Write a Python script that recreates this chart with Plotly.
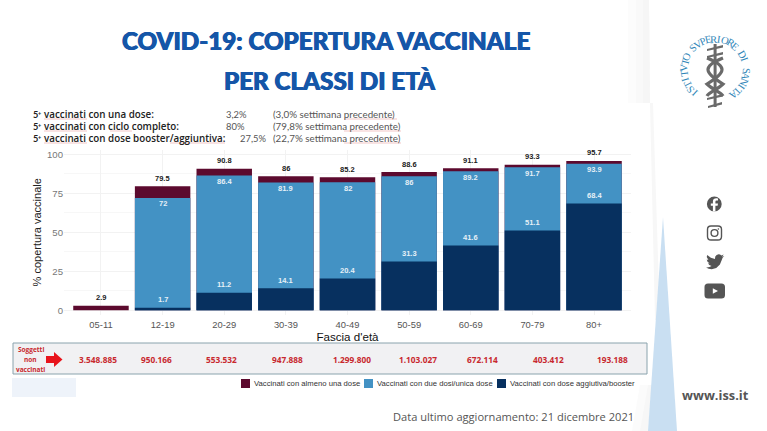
import math
import plotly.graph_objects as go

W, H = 767, 431

# Vaccination coverage by age band (%)
categories = ["05-11", "12-19", "20-29", "30-39", "40-49", "50-59", "60-69", "70-79", "80+"]
almeno_una_dose = [2.9, 79.5, 90.8, 86, 85.2, 88.6, 91.1, 93.3, 95.7]
due_dosi = [None, 72, 86.4, 81.9, 82, 86, 89.2, 91.7, 93.9]
booster = [None, 1.7, 11.2, 14.1, 20.4, 31.3, 41.6, 51.1, 68.4]
non_vaccinati = ["3.548.885", "950.166", "553.532", "947.888", "1.299.800",
                 "1.103.027", "672.114", "403.412", "193.188"]
non_vaccinati_x = [98, 156, 222, 287, 352, 418, 482, 548, 612]

series_names = ["Vaccinati con almeno una dose", "Vaccinati con due dosi/unica dose",
                "Vaccinati con dose aggiutiva/booster"]
series_colors = ["#5c0a2e", "#4392c4", "#07305f"]

summary_rows = [
    ("con una dose:", "3,2%", "(3,0% settimana precedente)", 226),
    ("con ciclo completo:", "80%", "(79,8% settimana precedente)", 226),
    ("con dose booster/aggiuntiva:", "27,5%", "(22,7% settimana precedente)", 240),
]


def px(x):
    return x / W


def py(y):
    return 1 - y / H


def path(cmds):
    """Build an SVG path in paper units from (command, x, y, ...) tuples in pixels."""
    out = []
    for c in cmds:
        nums = c[1:]
        pairs = [f"{px(nums[i]):.5f} {py(nums[i + 1]):.5f}" for i in range(0, len(nums), 2)]
        out.append(c[0] + " ".join(pairs))
    return " ".join(out)


def poly(points):
    cmds = [("M", *points[0])] + [("L", *p) for p in points[1:]]
    return path(cmds) + " Z"


def rrect(x0, y0, x1, y1, r):
    return path([("M", x0 + r, y0), ("L", x1 - r, y0), ("Q", x1, y0, x1, y0 + r),
                 ("L", x1, y1 - r), ("Q", x1, y1, x1 - r, y1), ("L", x0 + r, y1),
                 ("Q", x0, y1, x0, y1 - r), ("L", x0, y0 + r), ("Q", x0, y0, x0 + r, y0)]) + " Z"


shapes = []
annotations = []


def add_path(d, fill=None, line=None, width=0, layer="below"):
    shapes.append(dict(type="path", path=d, xref="paper", yref="paper", layer=layer,
                       fillcolor=fill or "rgba(0,0,0,0)",
                       line=dict(color=line or "rgba(0,0,0,0)", width=width)))


def add_rect(x0, y0, x1, y1, fill=None, line=None, width=0, layer="below"):
    shapes.append(dict(type="rect", xref="paper", yref="paper", layer=layer,
                       x0=px(x0), x1=px(x1), y0=py(y1), y1=py(y0),
                       fillcolor=fill or "rgba(0,0,0,0)",
                       line=dict(color=line or "rgba(0,0,0,0)", width=width)))


def add_circle(cx, cy, r, fill=None, line=None, width=0, layer="above"):
    shapes.append(dict(type="circle", xref="paper", yref="paper", layer=layer,
                       x0=px(cx - r), x1=px(cx + r), y0=py(cy + r), y1=py(cy - r),
                       fillcolor=fill or "rgba(0,0,0,0)",
                       line=dict(color=line or "rgba(0,0,0,0)", width=width)))


def add_text(x, y, text, size, color="#000", family="Liberation Sans", xanchor="left", angle=0, weight=None, shadow=None):
    font = dict(size=size, color=color, family=family)
    if weight:
        font["weight"] = weight
    if shadow:
        font["shadow"] = shadow
    annotations.append(dict(x=px(x), y=py(y), xref="paper", yref="paper", text=text, showarrow=False,
                            xanchor=xanchor, yanchor="middle", font=font, textangle=angle,
                            borderpad=0, borderwidth=0))


def add_value_label(cat, value, yshift, color):
    annotations.append(dict(x=cat, y=value, xref="x", yref="y", text=f"<b>{value:g}</b>", showarrow=False,
                            yshift=yshift, xanchor="center", yanchor="middle", borderpad=0,
                            font=dict(size=7.5, color=color, family="Liberation Sans")))


def squiggle(x0, x1, y):
    shapes.append(dict(type="line", xref="paper", yref="paper", layer="below",
                       x0=px(x0), x1=px(x1), y0=py(y), y1=py(y),
                       line=dict(color="#efb9b9", width=0.8)))


# Side ribbon behind the slide content
for left, fill in ((628, "#fcfcfc"), (636, "#f9f9f9"), (643, "#f6f6f6")):
    add_path(poly([(left, 0), (649, 0), (650, 103), (left, 103)]), fill=fill)
add_path(poly([(650, 103), (653, 103), (660, 320), (655, 320)]), fill="#f7f7f7")
for left, fill in ((632, "#fbfbfb"), (640, "#f7f7f7")):
    add_path(poly([(left, 431), (left + 8, 385), (652, 385), (648, 431)]), fill=fill)
add_path(poly([(663, 217), (677, 431), (648, 431)]), fill="#c9dff2")

# Title
title_color = "#1556a8"
title_shadow = f"0.5px 0 0 {title_color}, -0.5px 0 0 {title_color}"
add_text(326, 41, "COVID-19: COPERTURA VACCINALE", 24.2, title_color, "Lato", "center", weight=900, shadow=title_shadow)
add_text(330, 80, "PER CLASSI DI ETÀ", 24.2, title_color, "Lato", "center", weight=900, shadow=title_shadow)

# Summary rows above the chart; the raised plus is set as its own small text
for i, (label, pct, prev, pct_x) in enumerate(summary_rows):
    y = 114 + i * 12
    add_text(33, y, "5", 9.2, "#222", "Lato", weight=700)
    add_text(38.4, y - 1, "+", 5.5, "#222", "Lato", weight=700)
    add_text(44, y, f"vaccinati {label}", 9.8, "#222", "Open Sans", weight=600)
    add_text(pct_x, y, pct, 9.4, "#555", "Lato")
    add_text(273, y, prev, 9.8, "#555", "Lato")
    squiggle(44, 87, y + 5)
    squiggle(344, 397 + (4 if i else 0), y + 5)
squiggle(110, 132, 131)
squiggle(170, 225, 143)

# Unvaccinated counts strip
add_rect(13, 343, 647, 374, fill="#f1f1f3", line="#8aa3ad", width=1)
for y, word in zip((349.5, 359.5, 369), ("Soggetti", "non", "vaccinati")):
    add_text(30.5, y, f"<b>{word}</b>", 6.5, "#c8282e", "Open Sans", "center")
add_path(poly([(46, 356), (54, 356), (54, 352), (62.5, 359.5), (54, 367), (54, 363), (46, 363)]), fill="#e8141c")
for x, label in zip(non_vaccinati_x, non_vaccinati):
    add_text(x, 359, f"<b>{label}</b>", 8.3, "#c8282e", "Open Sans", "center")
add_rect(12, 378, 76, 397, fill="#eef3fa")

# Legend row
legend_swatches = [241, 364, 497]
for x, name, color in zip(legend_swatches, series_names, series_colors):
    add_rect(x, 379, x + 9, 388, fill=color)
    add_text(x + 13, 383.5, name, 7.7, "#333")

# Footer and links
add_text(393, 416, "Data ultimo aggiornamento: 21 dicembre 2021", 11.1, "#555", "Open Sans")
add_text(682, 395, "<b>www.iss.it</b>", 12.8, "#555", "Open Sans")

# Institute seal: lettering on a ring around the staff
seal_x, seal_y, seal_r = 715, 70, 31
seal_text = "ISTITVTO SVPERIORE DI SANITA"
for i, ch in enumerate(seal_text):
    a = -138 + i * 282 / (len(seal_text) - 1)
    if ch != " ":
        add_text(seal_x + seal_r * math.sin(math.radians(a)), seal_y - seal_r * math.cos(math.radians(a)),
                 ch, 10.5, "#2f86b8", "Liberation Serif", "center", angle=a)
gray = "#6a6a6a"
add_rect(713.6, 44, 716.6, 107, fill=gray, layer="above")
for y, half in ((47, 8), (54, 8), (96, 8), (104, 7)):
    add_path(poly([(715 - half, y + 2), (715 + half, y - 2), (715 + half, y + 0.5), (715 - half, y + 4)]),
             fill=gray, layer="above")
for side in (1, -1):
    add_path(path([("M", 715 - 8 * side, 58), ("C", 715 + 12 * side, 66, 715 + 12 * side, 72, 715 - 8 * side, 84),
                   ("C", 715 - 2 * side, 90, 715 + 6 * side, 92, 715 + 8 * side, 96)]),
             line=gray, width=3.2, layer="above")

# Social icons
icon = "#555555"
add_circle(714.3, 204, 7.4, fill=icon)
add_path(path([("M", 715.4, 211.4), ("L", 715.4, 205.8), ("L", 717.6, 205.8), ("L", 718, 203.4), ("L", 715.4, 203.4),
               ("L", 715.4, 201.8), ("Q", 715.4, 200.5, 716.8, 200.5), ("L", 718, 200.5), ("L", 718, 198.4),
               ("Q", 712.9, 197.7, 712.9, 201.6), ("L", 712.9, 203.4), ("L", 710.8, 203.4), ("L", 710.8, 205.8),
               ("L", 712.9, 205.8), ("L", 712.9, 211.4)]) + " Z", fill="#ffffff", layer="above")
add_path(rrect(707.5, 226, 721.5, 240, 3.5), line=icon, width=1.4, layer="above")
add_circle(714.5, 233, 3.4, line=icon, width=1.4)
add_circle(718.4, 229, 0.8, fill=icon)
bird = [(24, 4.57), (21.13, 5.35), (23.29, 2.62), (20.16, 3.81), (18.5, 2.6), (16.57, 2.25), (14, 3), (12.2, 5.2),
        (11.78, 8.29), (6.4, 6.8), (1.64, 3.16), (0.97, 5.64), (3.16, 9.73), (0.93, 9.12), (0.93, 9.18), (2.2, 12.5),
        (4.88, 14.0), (2.67, 14.09), (4.3, 16.4), (7.27, 17.5), (4.5, 19.1), (1.17, 19.6), (0, 19.54), (3.5, 21.2),
        (7.56, 21.75), (13.5, 20.2), (18.3, 15.5), (21.55, 7.77), (21.54, 7.14)]
add_path(poly([(706 + bx * 0.76, 252.6 + by * 0.76) for bx, by in bird]), fill=icon, layer="above")
add_path(rrect(704.5, 283.5, 725, 298.5, 3.5), fill=icon, layer="above")
add_path(poly([(712.8, 288.3), (718, 291), (712.8, 293.7)]), fill="#ffffff", layer="above")

fig = go.Figure()

# Bars share one baseline and are overlaid, tallest series first
for values, name, color in zip((almeno_una_dose, due_dosi, booster), series_names, series_colors):
    fig.add_trace(go.Bar(x=categories, y=values, name=name, marker=dict(color=color, line_width=0),
                         width=0.9, showlegend=False, hoverinfo="x+y"))

# Value labels sit just outside or inside the end of each bar
for cat, a, d, b in zip(categories, almeno_una_dose, due_dosi, booster):
    add_value_label(cat, a, 8, "#1a1a1a")
    if d is not None:
        add_value_label(cat, d, -6, "#e6f0f7")
    if b is not None:
        add_value_label(cat, b, 8, "#e6f0f7")

fig.update_layout(
    width=W, height=H, margin=dict(l=0, r=0, t=0, b=0, pad=0, autoexpand=False),
    paper_bgcolor="#ffffff", plot_bgcolor="#ffffff",
    barmode="overlay", bargap=0.1, showlegend=False,
    shapes=shapes, annotations=annotations,
    xaxis=dict(domain=[px(64), px(631)], range=[-0.6, 8.6], type="category", categoryorder="array",
               categoryarray=categories, showline=False, ticks="", showgrid=True, gridcolor="#f2f2f2", gridwidth=0.7,
               ticklabelstandoff=3,
               tickfont=dict(size=9.4, color="#555", family="Liberation Sans"),
               title=dict(text="Fascia d'età", font=dict(size=11.6, color="#111", family="Liberation Sans"), standoff=3)),
    yaxis=dict(domain=[py(315), py(149.6)], range=[-3, 103], tickvals=[0, 25, 50, 75, 100], showline=False,
               zeroline=False, ticks="", showgrid=True, gridcolor="#f2f2f2", gridwidth=0.7,
               minor=dict(tickvals=[12.5, 37.5, 62.5, 87.5], showgrid=True, gridcolor="#f7f7f7", gridwidth=0.5),
               tickfont=dict(size=9.6, color="#777", family="Liberation Sans"),
               title=dict(text="% copertura vaccinale", font=dict(size=11, color="#222", family="Liberation Sans"), standoff=3)),
)

fig.write_html("out.html", config=dict(displayModeBar=False))
